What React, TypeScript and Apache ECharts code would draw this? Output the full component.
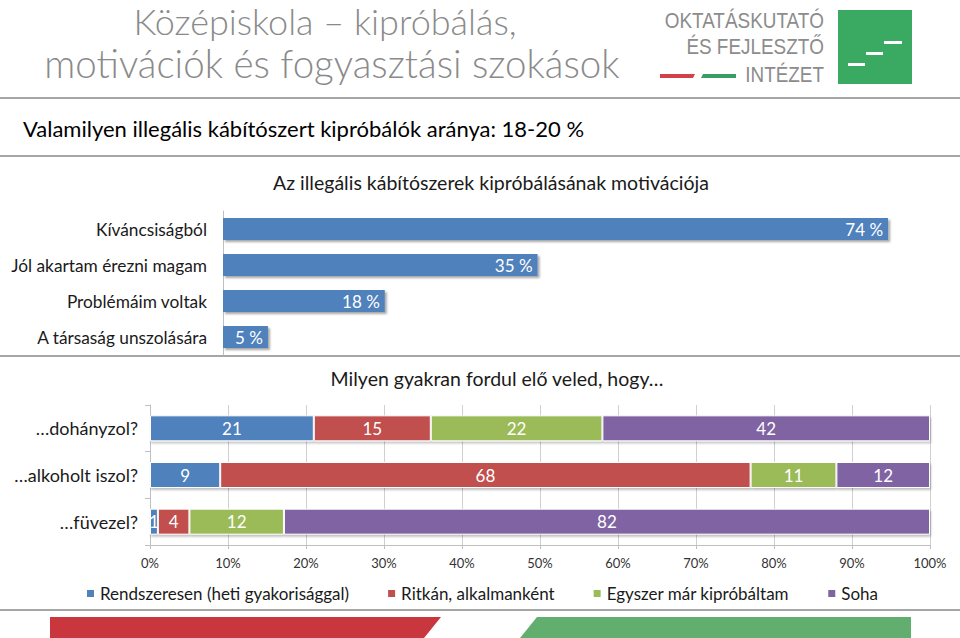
import React, { useEffect, useRef } from "react";
import * as echarts from "echarts";

const motivationCategories = [
  "Kíváncsiságból",
  "Jól akartam érezni magam",
  "Problémáim voltak",
  "A társaság unszolására",
];
const motivationValues = [74, 35, 18, 5];

const habitCategories = ["…dohányzol?", "…alkoholt iszol?", "…füvezel?"];
const seriesNames = [
  "Rendszeresen (heti gyakorisággal)",
  "Ritkán, alkalmanként",
  "Egyszer már kipróbáltam",
  "Soha",
];
const regularly = [21, 9, 1];
const rarely = [15, 68, 4];
const onceTried = [22, 11, 12];
const never = [42, 12, 82];
const seriesColors = ["#4f81bd", "#c0504d", "#9bbb59", "#8064a2"];

const FONT = "Lato, 'Noto Sans', sans-serif";

export default function App() {
  const ref = useRef<HTMLDivElement>(null);

  useEffect(() => {
    if (!ref.current) return;
    const chart = echarts.init(ref.current, null, { renderer: "svg" });

    const habitSeriesValues = [regularly, rarely, onceTried, never];
    const rowSums = habitCategories.map((_, i) =>
      habitSeriesValues.reduce((s, arr) => s + arr[i], 0)
    );

    const habitSeries = habitSeriesValues.map((arr, si) => ({
      type: "bar",
      name: seriesNames[si],
      xAxisIndex: 1,
      yAxisIndex: 1,
      stack: "habits",
      barWidth: 26,
      data: arr.map((v, i) => ({ value: (v / rowSums[i]) * 100, raw: v })),
      itemStyle: {
        color: seriesColors[si],
        borderColor: "#ffffff",
        borderWidth: 1,
        shadowColor: "rgba(0,0,0,0.25)",
        shadowBlur: 2,
        shadowOffsetX: 1,
        shadowOffsetY: 2,
      },
      label: {
        show: true,
        position: "inside",
        color: "#ffffff",
        fontFamily: FONT,
        fontSize: 17,
        formatter: (p: any) => String(p.data.raw),
      },
    }));

    const sep = (y: number) => ({
      type: "line",
      shape: { x1: 0, y1: y, x2: 960, y2: y },
      style: { stroke: "#a6a6a6", lineWidth: 2 },
    });

    const logoText = (text: string, y: number) => ({
      type: "text",
      x: 824,
      y,
      scaleX: 0.86,
      style: {
        text,
        fontFamily: "'Liberation Sans', sans-serif",
        fontSize: 22,
        fill: "#8c8c8c",
        textAlign: "right",
        textVerticalAlign: "middle",
      },
    });

    chart.setOption({
      animation: false,
      backgroundColor: "#ffffff",
      textStyle: { fontFamily: FONT },
      legend: {
        data: seriesNames,
        left: 80,
        top: 580,
        icon: "rect",
        itemWidth: 9,
        itemHeight: 9,
        itemGap: 37,
        textStyle: { fontFamily: FONT, fontSize: 17, color: "#1a1a1a" },
      },
      grid: [
        { left: 223, top: 211, width: 719, height: 144 },
        { left: 150, top: 405, width: 780, height: 140 },
      ],
      xAxis: [
        {
          gridIndex: 0,
          type: "value",
          min: 0,
          max: 80,
          show: false,
        },
        {
          gridIndex: 1,
          type: "value",
          min: 0,
          max: 100,
          interval: 10,
          axisLine: { show: true, lineStyle: { color: "#bfbfbf" } },
          axisTick: { show: true, length: 4, lineStyle: { color: "#bfbfbf" } },
          splitLine: { show: true, lineStyle: { color: "#d0d0d0" } },
          axisLabel: {
            formatter: "{value}%",
            fontFamily: FONT,
            fontSize: 13,
            color: "#333333",
            margin: 11,
          },
        },
      ],
      yAxis: [
        {
          gridIndex: 0,
          type: "category",
          inverse: true,
          data: motivationCategories,
          axisLine: { show: true, lineStyle: { color: "#bfbfbf" } },
          axisTick: { show: false },
          axisLabel: { fontFamily: FONT, fontSize: 17.3, color: "#1a1a1a", margin: 16 },
        },
        {
          gridIndex: 1,
          type: "category",
          inverse: true,
          data: habitCategories,
          axisLine: { show: true, lineStyle: { color: "#bfbfbf" } },
          axisTick: { show: true, length: 5, lineStyle: { color: "#bfbfbf" } },
          axisLabel: { fontFamily: FONT, fontSize: 18, color: "#1a1a1a", margin: 12 },
        },
      ],
      series: [
        {
          type: "bar",
          name: "Motiváció",
          xAxisIndex: 0,
          yAxisIndex: 0,
          barWidth: 22,
          data: motivationValues,
          itemStyle: {
            color: "#4f81bd",
            shadowColor: "rgba(0,0,0,0.35)",
            shadowBlur: 2,
            shadowOffsetX: 2,
            shadowOffsetY: 2,
          },
          label: {
            show: true,
            position: "insideRight",
            color: "#ffffff",
            fontFamily: FONT,
            fontSize: 17,
            formatter: "{c} %",
          },
        },
        ...habitSeries,
      ],
      graphic: [
        {
          type: "text",
          x: 325,
          y: 21,
          style: {
            text: "Középiskola – kipróbálás,",
            fontFamily: FONT,
            fontWeight: 300,
            fontSize: 36,
            fill: "#8a8a8a",
            textAlign: "center",
            textVerticalAlign: "middle",
          },
        },
        {
          type: "text",
          x: 332,
          y: 63,
          style: {
            text: "motivációk és fogyasztási szokások",
            fontFamily: FONT,
            fontWeight: 300,
            fontSize: 38.5,
            fill: "#8a8a8a",
            textAlign: "center",
            textVerticalAlign: "middle",
          },
        },
        // logo
        logoText("OKTATÁSKUTATÓ", 20),
        logoText("ÉS FEJLESZTŐ", 46),
        logoText("INTÉZET", 74),
        {
          type: "polygon",
          shape: { points: [[660, 74], [695, 74], [693, 78], [660, 78]] },
          style: { fill: "#d2404a" },
        },
        {
          type: "polygon",
          shape: { points: [[703, 74], [736, 74], [736, 78], [701, 78]] },
          style: { fill: "#3a9e63" },
        },
        {
          type: "rect",
          shape: { x: 838, y: 10, width: 74, height: 74 },
          style: { fill: "#3aaa62" },
        },
        { type: "rect", shape: { x: 848, y: 63, width: 17, height: 3 }, style: { fill: "#ffffff" } },
        { type: "rect", shape: { x: 866, y: 52, width: 17, height: 3 }, style: { fill: "#ffffff" } },
        { type: "rect", shape: { x: 884, y: 41, width: 18, height: 3 }, style: { fill: "#ffffff" } },
        sep(98),
        {
          type: "text",
          x: 23,
          y: 128,
          style: {
            text: "Valamilyen illegális kábítószert kipróbálók aránya: 18-20 %",
            fontFamily: FONT,
            fontSize: 22,
            fill: "#000000",
            textVerticalAlign: "middle",
          },
        },
        sep(156),
        {
          type: "text",
          x: 491,
          y: 182,
          style: {
            text: "Az illegális kábítószerek kipróbálásának motivációja",
            fontFamily: FONT,
            fontSize: 19.5,
            fill: "#1a1a1a",
            textAlign: "center",
            textVerticalAlign: "middle",
          },
        },
        sep(356),
        {
          type: "text",
          x: 497,
          y: 378,
          style: {
            text: "Milyen gyakran fordul elő veled, hogy…",
            fontFamily: FONT,
            fontSize: 19.5,
            fill: "#1a1a1a",
            textAlign: "center",
            textVerticalAlign: "middle",
          },
        },
        sep(610),
        {
          type: "polygon",
          shape: { points: [[50, 617], [441, 617], [424, 638], [50, 638]] },
          style: { fill: "#c9363e" },
        },
        {
          type: "polygon",
          shape: { points: [[537, 617], [911, 617], [911, 638], [520, 638]] },
          style: { fill: "#62ae6e" },
        },
      ],
    });

    return () => chart.dispose();
  }, []);

  return (
    <div
      ref={ref}
      style={{ position: "absolute", left: 0, top: 0, width: 960, height: 638 }}
    />
  );
}
